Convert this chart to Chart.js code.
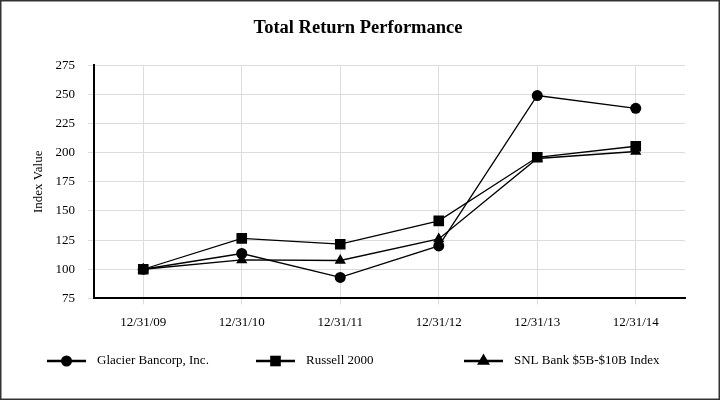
<!DOCTYPE html>
<html>
<head>
<meta charset="utf-8">
<script src="https://cdn.jsdelivr.net/npm/chart.js@4/dist/chart.umd.min.js"></script>
<style>
    body { margin: 0; background: #fff; }
    #wrap { width: 720px; height: 400px; }
</style>
</head>
<body>
<div id="wrap"><canvas id="perf" width="720" height="400"></canvas></div>
<script>
    "use strict";

    // Data
    var periods = ["12/31/09", "12/31/10", "12/31/11", "12/31/12", "12/31/13", "12/31/14"];
    var glacier = [100, 113.5, 93, 120, 249, 238];
    var russell = [100, 126.5, 121.5, 141.5, 196, 205.5];
    var snlBank = [100, 108, 107.5, 126, 195, 201];
    var yTicks = [75, 100, 125, 150, 175, 200, 225, 250, 275];

    var serif = "'Liberation Serif', 'Times New Roman', serif";

    // Legend drawn like the original: short line with marker in the middle
    var lineLegend = {
        id: 'lineLegend',
        afterDraw: function (chart) {
            var ctx = chart.ctx;
            var slots = [47, 256, 464];
            var y = 361;
            ctx.save();
            chart.data.datasets.forEach(function (ds, i) {
                var x0 = slots[i];
                ctx.strokeStyle = '#000';
                ctx.lineWidth = 2.5;
                ctx.beginPath();
                ctx.moveTo(x0, y);
                ctx.lineTo(x0 + 39, y);
                ctx.stroke();
                ctx.fillStyle = '#000';
                Chart.helpers.drawPoint(ctx, {
                    pointStyle: ds.pointStyle,
                    radius: ds.pointStyle === 'triangle' ? 7.5 : ds.pointRadius,
                    borderWidth: 0
                }, x0 + 19.5, y);
                ctx.fillStyle = '#000';
                ctx.font = "13px " + serif;
                ctx.textBaseline = 'middle';
                ctx.fillText(ds.label, x0 + 50, y);
            });
            // outer frame
            ctx.strokeStyle = '#333';
            ctx.lineWidth = 1.5;
            ctx.strokeRect(0.75, 0.75, chart.width - 1.5, chart.height - 1.5);
            ctx.restore();
        }
    };

    var ctx1 = document.getElementById('perf').getContext('2d');
    var myChart = new Chart(ctx1, {
        type: 'line',
        data: {
            labels: periods,
            datasets: [{
                label: 'Glacier Bancorp, Inc.',
                data: glacier,
                pointStyle: 'circle',
                pointRadius: 5.5,
                borderColor: '#000',
                backgroundColor: '#000'
            }, {
                label: 'Russell 2000',
                data: russell,
                pointStyle: 'rect',
                pointRadius: 7.5,
                borderColor: '#000',
                backgroundColor: '#000'
            }, {
                label: 'SNL Bank $5B-$10B Index',
                data: snlBank,
                pointStyle: 'triangle',
                pointRadius: 6.5,
                borderColor: '#000',
                backgroundColor: '#000'
            }]
        },
        options: {
            responsive: false,
            animation: false,
            devicePixelRatio: 1,
            datasets: {
                line: {
                    borderWidth: 1.3,
                    pointBorderWidth: 0,
                    pointHoverRadius: 6,
                    tension: 0
                }
            },
            layout: { padding: { left: 31, right: 35, top: 0, bottom: 60 } },
            plugins: {
                colors: { enabled: false },
                legend: { display: false },
                tooltip: { enabled: false },
                title: {
                    display: true,
                    text: 'Total Return Performance',
                    color: '#000',
                    font: { family: serif, size: 18.5, weight: 'bold' },
                    padding: { top: 17, bottom: 26 }
                }
            },
            scales: {
                x: {
                    offset: true,
                    grid: { color: '#dcdcdc', tickLength: 6, offset: false },
                    border: { color: '#000', width: 2 },
                    ticks: { color: '#000', font: { family: serif, size: 13 }, padding: 10 }
                },
                y: {
                    min: 75,
                    max: 275,
                    afterBuildTicks: function (axis) {
                        axis.ticks = yTicks.map(function (v) { return { value: v }; });
                    },
                    afterFit: function (axis) {
                        axis.width = 63;
                    },
                    grid: { color: '#dcdcdc', tickLength: 6 },
                    border: { color: '#000', width: 2 },
                    ticks: { color: '#000', font: { family: serif, size: 13 }, padding: 13 },
                    title: {
                        display: true,
                        text: 'Index Value',
                        color: '#000',
                        font: { family: serif, size: 13 },
                        padding: { top: 0, bottom: 0 }
                    }
                }
            }
        },
        plugins: [lineLegend]
    });
</script>
</body>
</html>
